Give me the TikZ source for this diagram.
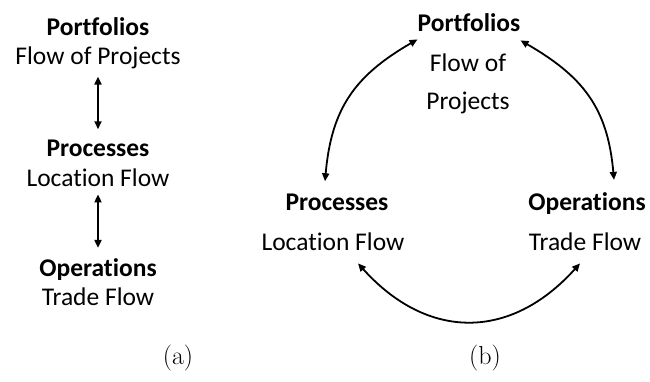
\documentclass[tikz,border=0pt]{standalone}
\usepackage{fontspec}
\newfontfamily\labelfont[Ligatures={NoCommon}]{Carlito}
\usetikzlibrary{arrows.meta}
\begin{document}
\begin{tikzpicture}[x=1pt,y=1pt,
  lbl/.style={font=\labelfont\fontsize{25.5}{30}\selectfont, inner sep=0pt, anchor=base},
  hdr/.style={lbl, font=\labelfont\bfseries\fontsize{25.5}{30}\selectfont},
  captext/.style={font=\fontsize{26}{30}\selectfont, inner sep=0pt, anchor=base},
  link/.style={line width=1.8pt, {Triangle[length=8pt,width=7pt]}-{Triangle[length=8pt,width=7pt]}}
]
\useasboundingbox (0,0) rectangle (650,-381);

% (a): stacked levels
\node[hdr] (aport) at (98,-35)  {Portfolios};
\node[lbl] (aflow) at (98,-64)  {Flow of Projects};
\node[hdr] (aproc) at (98,-156) {Processes};
\node[lbl] (aloc)  at (98,-186) {Location Flow};
\node[hdr] (aoper) at (98,-276) {Operations};
\node[lbl] (atrade) at (98,-305) {Trade Flow};

\draw[link] ([yshift=-8pt]aflow.south) -- ([yshift=10pt]aproc.north);
\draw[link] ([yshift=-8pt]aloc.south) -- ([yshift=10pt]aoper.north);

% (b): cycle of levels
\node[hdr] (bport) at (469,-31)  {Portfolios};
\node[lbl] (bflow) at (468,-71)  {Flow of};
\node[lbl] (bproj) at (468,-109) {Projects};
\node[hdr] (bproc) at (337,-210) {Processes};
\node[lbl] (bloc)  at (333,-250) {Location Flow};
\node[hdr] (boper) at (587,-210) {Operations};
\node[lbl] (btrade) at (585,-250) {Trade Flow};

\draw[link] ([shift={(-12pt,12pt)}]bproc.north) to[out=85,in=210,looseness=1.1] ([shift={(0pt,-8pt)}]bport.south west);
\draw[link] ([shift={(27pt,12pt)}]boper.north) to[out=95,in=-30,looseness=1.1] ([shift={(0pt,-9pt)}]bport.south east);
\draw[link] ([shift={(25pt,-13pt)}]bloc.south) to[out=-48,in=228,looseness=1.2] ([shift={(-5pt,-13pt)}]btrade.south);

% captions
\node[captext] (capa) at (178,-364) {(a)};
\node[captext] (capb) at (485,-364) {(b)};
\end{tikzpicture}
\end{document}
